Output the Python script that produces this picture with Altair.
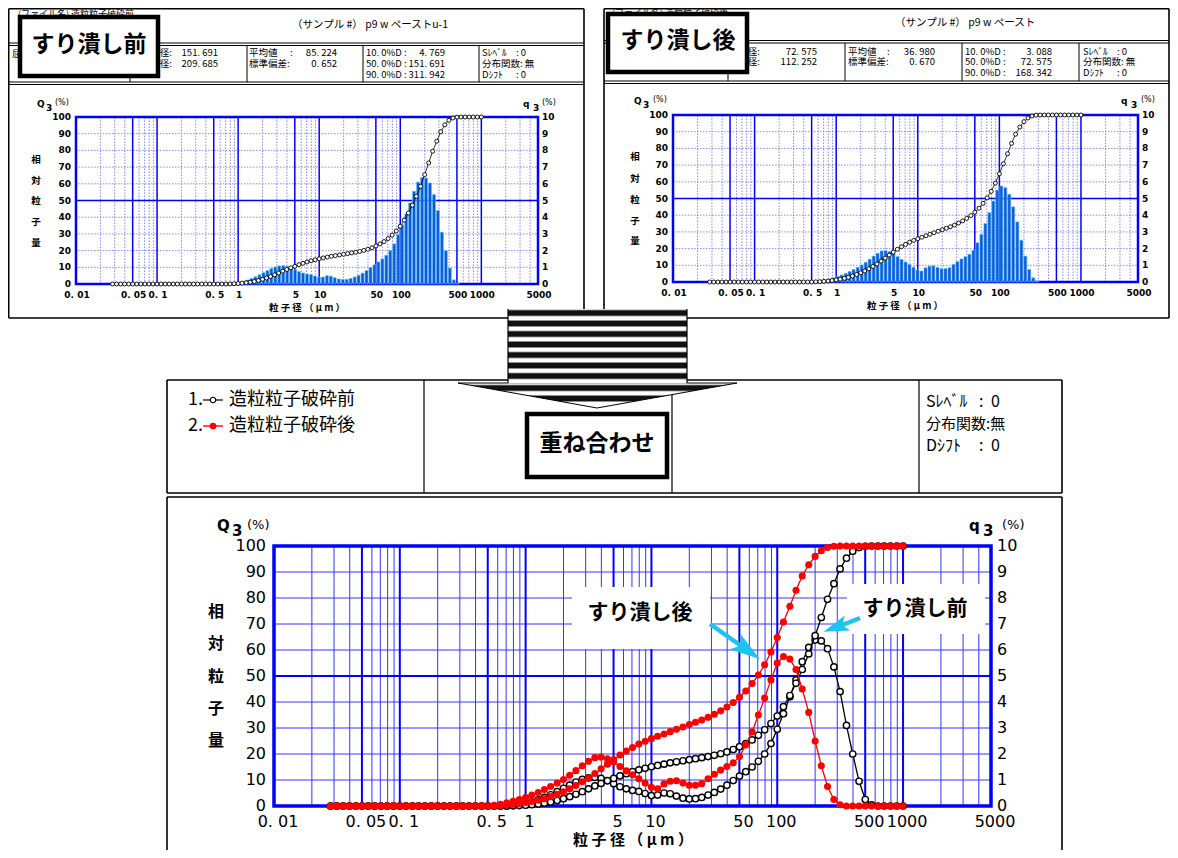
import altair as alt
import pandas as pd

# ---------------- values ----------------
SIZES = [0.0282, 0.0316, 0.0355, 0.0398, 0.0447, 0.0501, 0.0562, 0.0631, 0.0708, 0.0794, 0.0891,
         0.100, 0.112, 0.126, 0.141, 0.158, 0.178, 0.200, 0.224, 0.251, 0.282, 0.316, 0.355, 0.398, 0.447,
         0.501, 0.562, 0.631, 0.708, 0.794, 0.891,
         1.00, 1.12, 1.26, 1.41, 1.58, 1.78, 2.00, 2.24, 2.51, 2.82, 3.16, 3.55, 3.98, 4.47, 5.01, 5.62, 6.31, 7.08, 7.94, 8.91,
         10.0, 11.2, 12.6, 14.1, 15.8, 17.8, 20.0, 22.4, 25.1, 28.2, 31.6, 35.5, 39.8, 44.7, 50.1, 56.2, 63.1, 70.8, 79.4, 89.1,
         100, 112, 126, 141, 158, 178, 200, 224, 251, 282, 316, 355, 398, 447, 501, 562, 631, 708, 794, 891, 1000]

# before crushing (すり潰し前): cumulative Q3 (%) and frequency q3 (%)
BEFORE_CUM = [0, 0, 0, 0, 0, 0, 0, 0, 0, 0,
              0, 0, 0, 0, 0, 0, 0, 0, 0, 0,
              0, 0, 0, 0, 0, 0, 0, 0, 0,
              0.05, 0.15, 0.3, 0.5, 0.8, 1.1, 1.5, 2.1, 2.8, 3.6, 4.5, 5.5,
              6.6, 7.7, 8.7, 9.7, 10.6, 11.6, 12.4, 13.2, 13.9, 14.5,
              15.1, 15.6, 16.1, 16.6, 17.0, 17.4, 17.8, 18.2, 18.6, 19.0,
              19.5, 20.1, 20.8, 21.7, 22.8, 24.0, 25.4, 27.2, 29.3, 31.7,
              34.6, 38.2, 42.5, 47.2, 52.5, 58.5, 65.5, 72.5, 79.5, 85.5,
              91.2, 95.3, 98.0, 99.4, 99.9, 100, 100, 100, 100, 100, 100]
BEFORE_FREQ = [0, 0, 0, 0, 0, 0, 0, 0, 0, 0,
               0, 0, 0, 0, 0, 0, 0, 0, 0, 0,
               0, 0, 0, 0, 0, 0, 0, 0, 0,
               0.02, 0.05, 0.1, 0.16, 0.24, 0.33, 0.43, 0.55, 0.68, 0.8, 0.92, 1.02,
               1.08, 1.1, 1.06, 0.98, 0.86, 0.74, 0.66, 0.6, 0.56, 0.48,
               0.4, 0.42, 0.5, 0.47, 0.38, 0.3, 0.27, 0.28, 0.33, 0.42,
               0.52, 0.65, 0.8, 0.98, 1.15, 1.32, 1.5, 1.72, 2.0, 2.4,
               2.95, 3.55, 4.2, 4.85, 5.55, 6.1, 6.38, 6.35, 6.05, 5.35,
               4.4, 3.1, 2.0, 0.95, 0.25, 0.04, 0, 0, 0, 0, 0]
# after crushing (すり潰し後)
AFTER_CUM = [0, 0, 0, 0, 0, 0, 0, 0, 0, 0,
             0, 0, 0, 0, 0, 0, 0, 0, 0, 0,
             0, 0, 0, 0, 0, 0,
             0.1, 0.2, 0.4, 0.6, 0.9, 1.3, 1.7, 2.2, 2.8, 3.6,
             4.5, 5.5, 6.6, 7.9, 9.3, 10.8, 12.5, 14.3, 16.1, 17.9,
             19.6, 21.1, 22.5, 23.8, 24.9, 25.9, 26.8, 27.7, 28.6, 29.5,
             30.4, 31.3, 32.2, 33.1, 34.1, 35.3, 36.6, 38.1, 39.8, 41.8,
             44.2, 47.1, 50.4, 54.3, 59.2, 64.8, 70.8, 76.8, 83.0, 88.5,
             92.8, 96.0, 98.2, 99.4, 99.9, 100, 100, 100, 100, 100,
             100, 100, 100, 100, 100, 100]
AFTER_FREQ = [0, 0, 0, 0, 0, 0, 0, 0, 0, 0,
              0, 0, 0, 0, 0, 0, 0, 0, 0, 0,
              0, 0, 0, 0, 0, 0,
              0.03, 0.07, 0.12, 0.18, 0.25, 0.33, 0.42, 0.52, 0.63, 0.75,
              0.88, 1.02, 1.18, 1.36, 1.55, 1.72, 1.86, 1.88, 1.82, 1.70,
              1.52, 1.35, 1.20, 1.05, 0.88, 0.72, 0.66, 0.85, 0.95, 0.97,
              0.88, 0.8, 0.8, 0.86, 1.05, 1.22, 1.38, 1.52, 1.66, 1.9,
              2.35, 2.85, 3.5, 4.15, 4.85, 5.5, 5.75, 5.65, 5.25, 4.5,
              3.6, 2.5, 1.55, 0.75, 0.25, 0.05, 0, 0, 0, 0,
              0, 0, 0, 0, 0, 0]

X_TICKS = [0.01, 0.05, 0.1, 0.5, 1, 5, 10, 50, 100, 500, 1000, 5000]
X_TICK_LABELS = ["0. 01", "0. 05", "0. 1", "0. 5", "1", "5", "10", "50", "100", "500", "1000", "5000"]
Q_TICKS = [0, 10, 20, 30, 40, 50, 60, 70, 80, 90, 100]
QF_TICKS = [0, 1, 2, 3, 4, 5, 6, 7, 8, 9, 10]
MAJOR_V = [0.05, 0.1, 0.5, 1, 5, 10, 50, 100, 500, 1000]
MINOR_V = [0.02, 0.03, 0.04, 0.06, 0.07, 0.08, 0.09, 0.2, 0.3, 0.4, 0.6, 0.7, 0.8, 0.9,
           2, 3, 4, 6, 7, 8, 9, 20, 30, 40, 60, 70, 80, 90, 200, 300, 400, 600, 700, 800, 900,
           2000, 3000, 4000]
MINOR_H = [10, 20, 30, 40, 60, 70, 80, 90]
MAJOR_H = [50]

Y_TITLE = ["相", "対", "粒", "子", "量"]
X_TITLE = "粒  子  径  （  μ  m  ）"

# ---------------- layout ----------------
FONT = "Noto Sans CJK JP"
NUM = "DejaVu Sans"
W, H, M = 1162, 842, 8
PXS = alt.Scale(domain=[M, M + W], range=[0, W], nice=False, zero=False)
PYS = alt.Scale(domain=[M, M + H], range=[0, H], nice=False, zero=False)

BOX_TL = (76, 538, 117, 284)
BOX_TR = (673, 1138, 115, 282)
BOX_BT = (274, 991, 546, 806)


def PX(f):
    return alt.X(f, scale=PXS, axis=None)


def PY(f):
    return alt.Y(f, scale=PYS, axis=None)


def rules(rows, color="black"):
    df = pd.DataFrame(rows, columns=["x", "y", "x2", "y2", "w"])
    return alt.Chart(df).mark_rule(color=color).encode(
        x=PX("x:Q"), x2="x2:Q", y=PY("y:Q"), y2="y2:Q",
        strokeWidth=alt.StrokeWidth("w:Q", scale=None, legend=None))


def texts(rows, align="left", weight="normal", font=FONT, color="black"):
    df = pd.DataFrame(rows, columns=["x", "y", "t", "s"])
    return alt.Chart(df).mark_text(align=align, baseline="middle", fontWeight=weight,
                                   font=font, color=color).encode(
        x=PX("x:Q"), y=PY("y:Q"), text="t:N",
        size=alt.Size("s:Q", scale=None, legend=None))


def boxes(rows, sw, fill="white", stroke="black"):
    df = pd.DataFrame(rows, columns=["x", "y", "x2", "y2"])
    return alt.Chart(df).mark_rect(fill=fill, stroke=stroke, strokeWidth=sw).encode(
        x=PX("x:Q"), x2="x2:Q", y=PY("y:Q"), y2="y2:Q")


def scales(box):
    x0, x1, yt, yb = box
    xs = alt.Scale(type="log", domain=[0.01, 5000], range=[x0 - M, x1 - M], nice=False)
    ys = alt.Scale(type="linear", domain=[0, 100], range=[yb - M, yt - M], nice=False, zero=False)
    yf = alt.Scale(type="linear", domain=[0, 10], range=[yb - M, yt - M], nice=False, zero=False)
    return xs, ys, yf


def grid_layers(xs, ys, big):
    def X(f):
        return alt.X(f, scale=xs, axis=None)

    def Y(f):
        return alt.Y(f, scale=ys, axis=None)
    vmin = pd.DataFrame({"v": MINOR_V, "lo": 0, "hi": 100})
    vmaj = pd.DataFrame({"v": MAJOR_V, "lo": 0, "hi": 100})
    hmin = pd.DataFrame({"h": MINOR_H, "a": 0.01, "b": 5000})
    hmaj = pd.DataFrame({"h": MAJOR_H, "a": 0.01, "b": 5000})
    frame = pd.DataFrame({"a": [0.01], "b": [5000], "lo": [0], "hi": [100]})
    if big:
        smin = dict(color="#3535ff", strokeWidth=1.0)
        smaj = dict(color="#0000ff", strokeWidth=2.0)
        fw = 3.5
    else:
        smin = dict(color="#6a6aff", strokeWidth=0.8, strokeDash=[1.5, 1.5])
        smaj = dict(color="#0000ff", strokeWidth=1.5)
        fw = 2.5
    return [
        alt.Chart(frame).mark_rect(fill="white").encode(x=X("a:Q"), x2="b:Q", y=Y("lo:Q"), y2="hi:Q"),
        alt.Chart(vmin).mark_rule(**smin).encode(x=X("v:Q"), y=Y("lo:Q"), y2="hi:Q"),
        alt.Chart(hmin).mark_rule(**smin).encode(y=Y("h:Q"), x=X("a:Q"), x2="b:Q"),
        alt.Chart(vmaj).mark_rule(**smaj).encode(x=X("v:Q"), y=Y("lo:Q"), y2="hi:Q"),
        alt.Chart(hmaj).mark_rule(**smaj).encode(y=Y("h:Q"), x=X("a:Q"), x2="b:Q"),
        alt.Chart(frame).mark_rect(fillOpacity=0, stroke="#0000ff", strokeWidth=fw).encode(
            x=X("a:Q"), x2="b:Q", y=Y("lo:Q"), y2="hi:Q"),
    ]


def tick_layers(xs, ys, yf, big):
    fs = 16 if big else 9
    wt = "normal" if big else "bold"
    dy = 16 if big else 11
    dxx = 4 if big else 1
    dxl = -8 if big else -5
    dxr = 6 if big else 4
    xt = pd.DataFrame({"v": X_TICKS, "t": X_TICK_LABELS, "b": 0})
    yl = pd.DataFrame({"v": Q_TICKS, "t": [str(v) for v in Q_TICKS], "a": 0.01})
    yr = pd.DataFrame({"v": QF_TICKS, "t": [str(v) for v in QF_TICKS], "a": 5000})
    return [
        alt.Chart(xt).mark_text(font=NUM, fontSize=fs, fontWeight=wt, dy=dy, dx=dxx).encode(
            x=alt.X("v:Q", scale=xs, axis=None), y=alt.Y("b:Q", scale=ys, axis=None), text="t:N"),
        alt.Chart(yl).mark_text(font=NUM, fontSize=fs, fontWeight=wt, align="right", dx=dxl).encode(
            x=alt.X("a:Q", scale=xs, axis=None), y=alt.Y("v:Q", scale=ys, axis=None), text="t:N"),
        alt.Chart(yr).mark_text(font=NUM, fontSize=fs, fontWeight=wt, align="left", dx=dxr).encode(
            x=alt.X("a:Q", scale=xs, axis=None), y=alt.Y("v:Q", scale=yf, axis=None), text="t:N"),
    ]


def small_series(xs, ys, yf, cum, freq):
    X = alt.X("size:Q", scale=xs, axis=None)
    fdf = pd.DataFrame({"size": SIZES, "f": freq, "z": 0.0})
    fdf = fdf[fdf["f"] > 0]
    cdf = pd.DataFrame({"size": SIZES, "q": cum})
    Yq = alt.Y("q:Q", scale=ys, axis=None)
    return [
        alt.Chart(fdf).mark_bar(size=3, fill="#1556d6", stroke="#46c6f8", strokeWidth=0.6).encode(
            x=X, y=alt.Y("f:Q", scale=yf, axis=None), y2="z:Q"),
        alt.Chart(cdf).mark_line(color="black", strokeWidth=0.8).encode(x=X, y=Yq),
        alt.Chart(cdf).mark_circle(fill="white", stroke="black", strokeWidth=0.9, size=16, opacity=1).encode(x=X, y=Yq),
    ]


def big_series(xs, ys, yf, cum, freq, open_marker):
    X = alt.X("size:Q", scale=xs, axis=None)
    out = []
    for vals, sc in ((freq, yf), (cum, ys)):
        df = pd.DataFrame({"size": SIZES, "v": vals})
        Yc = alt.Y("v:Q", scale=sc, axis=None)
        if open_marker:
            out.append(alt.Chart(df).mark_line(color="black", strokeWidth=1.3).encode(x=X, y=Yc))
            out.append(alt.Chart(df).mark_circle(fill="white", stroke="black", strokeWidth=1.4,
                                                 size=40, opacity=1).encode(x=X, y=Yc))
        else:
            out.append(alt.Chart(df).mark_line(color="#ff0000", strokeWidth=1.3).encode(x=X, y=Yc))
            out.append(alt.Chart(df).mark_circle(color="#ff0000", size=50, opacity=1).encode(x=X, y=Yc))
    return out


def stripes(top, bottom, centers):
    h = bottom - top
    stops = [alt.GradientStop(color="white", offset=0)]
    for c in centers:
        for d, col in ((-3.8, "white"), (-2.1, "#111111"), (2.1, "#111111"), (3.8, "white")):
            o = min(max((c + d - top) / h, 0.0), 1.0)
            stops.append(alt.GradientStop(color=col, offset=round(o, 4)))
    stops.append(alt.GradientStop(color="white", offset=1))
    return alt.LinearGradient(gradient="linear", stops=stops, x1=0, x2=0, y1=0, y2=1)


layers = []

# ---------- top panels: frames ----------
layers.append(rules([
    (8.7, 8.8, 584, 8.8, 1.6), (8.7, 318, 584, 318, 1.6), (8.7, 8.8, 8.7, 318, 1.6), (584, 8.8, 584, 318, 1.6),
    (8.7, 43, 584, 43, 1), (8.7, 45.5, 584, 45.5, 1), (8.7, 82, 584, 82, 1), (8.7, 84.5, 584, 84.5, 1),
    (130, 45.5, 130, 82, 1), (247, 45.5, 247, 82, 1), (363, 45.5, 363, 82, 1), (479, 45.5, 479, 82, 1),
    (604, 8.8, 1169, 8.8, 1.6), (604, 318, 1169, 318, 1.6), (604, 8.8, 604, 318, 1.6), (1169, 8.8, 1169, 318, 1.6),
    (604, 40.5, 1169, 40.5, 1), (604, 43, 1169, 43, 1), (604, 81, 1169, 81, 1), (604, 83.5, 1169, 83.5, 1),
    (728, 43, 728, 81, 1), (845, 43, 845, 81, 1), (962, 43, 962, 81, 1), (1079, 43, 1079, 81, 1),
]))

# header texts
HS = 9.5
layers.append(texts([
    (18, 14, "(ファイル名) 造粒粒子破砕前", 9), (292, 25, "（サンプル #） p9 w ペーストu-1", 10.5),
    (12, 54, "屈折率", HS),
    (249, 53, "平均値", HS), (290, 53, ":", HS), (249, 64, "標準偏差:", HS),
    (366, 53, "10. 0%D :", HS), (366, 64, "50. 0%D :", HS), (366, 75, "90. 0%D :", HS),
    (482, 53, "Sﾚﾍﾞﾙ", HS), (516, 53, ": 0", HS), (482, 64, "分布関数: 無", HS),
    (482, 75, "Dｼﾌﾄ", HS), (516, 75, ": 0", HS),
    (612, 13, "(ファイル名) 造粒粒子破砕後", 9), (895, 23, "（サンプル #） p9 w ペースト", 10.5),
    (608, 52, "屈折率", HS),
    (848, 52, "平均値", HS), (887, 52, ":", HS), (848, 62, "標準偏差:", HS),
    (965, 52, "10. 0%D :", HS), (965, 62, "50. 0%D :", HS), (965, 73, "90. 0%D :", HS),
    (1083, 52, "Sﾚﾍﾞﾙ", HS), (1117, 52, ": 0", HS), (1083, 62, "分布関数: 無", HS),
    (1083, 73, "Dｼﾌﾄ", HS), (1117, 73, ": 0", HS),
]))
layers.append(texts([
    (172, 53, "ﾒｼﾞｱﾝ径:", HS), (172, 64, "ﾓｰﾄﾞ径:", HS), (218, 53, "151. 691", HS), (218, 64, "209. 685", HS),
    (337, 53, "85. 224", HS), (337, 64, "0. 652", HS),
    (445, 53, "4. 769", HS), (445, 64, "151. 691", HS), (445, 75, "311. 942", HS),
    (760, 52, "ﾒｼﾞｱﾝ径:", HS), (760, 62, "ﾓｰﾄﾞ径:", HS), (817, 52, "72. 575", HS), (817, 62, "112. 252", HS),
    (935, 52, "36. 980", HS), (935, 62, "0. 670", HS),
    (1052, 52, "3. 088", HS), (1052, 62, "72. 575", HS), (1052, 73, "168. 342", HS),
], align="right"))

# ---------- top plots ----------
for box, cum, freq in ((BOX_TL, BEFORE_CUM, BEFORE_FREQ), (BOX_TR, AFTER_CUM, AFTER_FREQ)):
    xs, ys, yf = scales(box)
    layers += grid_layers(xs, ys, False)
    layers += tick_layers(xs, ys, yf, False)
    layers += small_series(xs, ys, yf, cum, freq)

# axis titles of the top plots
layers.append(texts([
    (37, 104, "Q", 9), (46, 108, "3", 9), (523, 104, "q", 9), (533, 108, "3", 9),
    (634, 101, "Q", 9), (643, 105, "3", 9), (1121, 101, "q", 9), (1131, 105, "3", 9),
], weight="bold", font=NUM))
layers.append(texts([
    (55, 103, "(%)", 8), (542, 103, "(%)", 8), (653, 100, "(%)", 8), (1141, 100, "(%)", 8),
], font=NUM))
layers.append(texts(
    [(36, y, c, 9.5) for y, c in zip([160, 181, 201, 222, 243], Y_TITLE)] +
    [(635, y, c, 9.5) for y, c in zip([157, 179, 200, 221, 241], Y_TITLE)] +
    [(307, 308, X_TITLE, 9.5), (905, 306, X_TITLE, 9.5)],
    align="center", weight="bold"))

# label boxes on top panels
layers.append(boxes([(20, 17, 158, 76), (608, 14, 747, 72)], 4.5))
layers.append(texts([(89, 45, "すり潰し前", 23), (678, 41, "すり潰し後", 23)], align="center", weight="bold"))

# ---------- legend box and bottom panel frames ----------
layers.append(rules([
    (167, 380, 1062, 380, 1.6), (167, 493, 1062, 493, 1.6), (167, 380, 167, 493, 1.6), (1062, 380, 1062, 493, 1.6),
    (424, 380, 424, 493, 1.2), (672, 380, 672, 493, 1.2), (919, 380, 919, 493, 1.2),
    (167, 497, 1062, 497, 1.6), (167, 497, 167, 850, 1.6), (1062, 497, 1062, 850, 1.6),
    (203, 400, 223, 400, 1.2),
]))
layers.append(rules([(203, 426, 223, 426, 1.4)], color="#ff0000"))
layers.append(alt.Chart(pd.DataFrame({"x": [213], "y": [400]})).mark_circle(
    fill="white", stroke="black", strokeWidth=1.2, size=30, opacity=1).encode(x=PX("x:Q"), y=PY("y:Q")))
layers.append(alt.Chart(pd.DataFrame({"x": [213], "y": [426]})).mark_circle(
    color="#ff0000", size=45, opacity=1).encode(x=PX("x:Q"), y=PY("y:Q")))
layers.append(texts([
    (188, 400, "1.", 18), (229, 400, "造粒粒子破砕前", 18),
    (188, 426, "2.", 18), (229, 426, "造粒粒子破砕後", 18),
    (926, 402, "Sﾚﾍﾞﾙ", 16), (979, 402, ":", 16), (991, 402, "0", 16),
    (926, 424, "分布関数:無", 15),
    (926, 446, "Dｼﾌﾄ", 16), (979, 446, ":", 16), (991, 446, "0", 16),
]))

# ---------- bottom (overlay) plot ----------
xs, ys, yf = scales(BOX_BT)
layers += grid_layers(xs, ys, True)
layers += tick_layers(xs, ys, yf, True)
layers += big_series(xs, ys, yf, BEFORE_CUM, BEFORE_FREQ, True)
layers += big_series(xs, ys, yf, AFTER_CUM, AFTER_FREQ, False)

layers.append(texts([
    (217, 526, "Q", 15), (232, 531, "3", 15), (969, 526, "q", 15), (983, 531, "3", 15),
], weight="bold", font=NUM))
layers.append(texts([(247, 525, "(%)", 13), (1002, 525, "(%)", 13)], font=NUM))
layers.append(texts(
    [(216, y, c, 16) for y, c in zip([612, 644, 677, 709, 741], Y_TITLE)] + [(633, 840, X_TITLE, 15)],
    align="center", weight="bold"))

# labels with arrows inside the bottom plot
CYAN = "#1cc4f2"
layers.append(boxes([(572, 587, 710, 649), (847, 584, 985, 634)], 0))
layers.append(texts([(640, 613, "すり潰し後", 21), (915, 609, "すり潰し前", 21)], align="center", weight="bold"))
arrow_df = pd.DataFrame({"id": ["a", "a", "b", "b"], "x": [710, 747, 860, 836], "y": [624, 650, 618, 627.5]})
layers.append(alt.Chart(arrow_df).mark_line(color=CYAN, strokeWidth=4.5).encode(
    x=PX("x:Q"), y=PY("y:Q"), detail="id:N"))
HEAD = "M1,0L-1,-0.62L-0.55,0L-1,0.62Z"
layers.append(alt.Chart(pd.DataFrame({"x": [747.5], "y": [650.3]})).mark_point(
    shape=HEAD, filled=True, color=CYAN, opacity=1, size=900, angle=35).encode(x=PX("x:Q"), y=PY("y:Q")))
layers.append(alt.Chart(pd.DataFrame({"x": [835.5], "y": [627.4]})).mark_point(
    shape=HEAD, filled=True, color=CYAN, opacity=1, size=650, angle=160).encode(x=PX("x:Q"), y=PY("y:Q")))

# ---------- big striped arrow ----------
tri = pd.DataFrame({"x": [458, 597, 737], "y": [383, 383, 383], "y2": [383, 408, 383]})
layers.append(alt.Chart(tri).mark_area(
    fill=stripes(383, 408, [388, 398.5]), stroke="black", strokeWidth=1, opacity=1).encode(
    x=PX("x:Q"), y=PY("y:Q"), y2="y2:Q"))
shaft = pd.DataFrame({"x": [508], "x2": [687], "y": [309], "y2": [383.5]})
layers.append(alt.Chart(shaft).mark_rect(
    fill=stripes(309, 383.5, [313, 323.5, 334, 344.5, 355, 365.5, 376])).encode(
    x=PX("x:Q"), x2="x2:Q", y=PY("y:Q"), y2="y2:Q"))
layers.append(rules([(508, 309, 508, 383, 1.2), (687, 309, 687, 383, 1.2)]))

# overlay label box
layers.append(boxes([(527, 414, 667, 477)], 4.5))
layers.append(texts([(597, 444, "重ね合わせ", 23)], align="center", weight="bold"))

chart = alt.layer(*layers).properties(
    width=W, height=H, padding=0, background="white",
    autosize=alt.AutoSizeParams(type="none"),
).resolve_scale(x="independent", y="independent").configure_view(strokeWidth=0)

chart.save("out.html", embed_options={"renderer": "svg", "actions": False})
